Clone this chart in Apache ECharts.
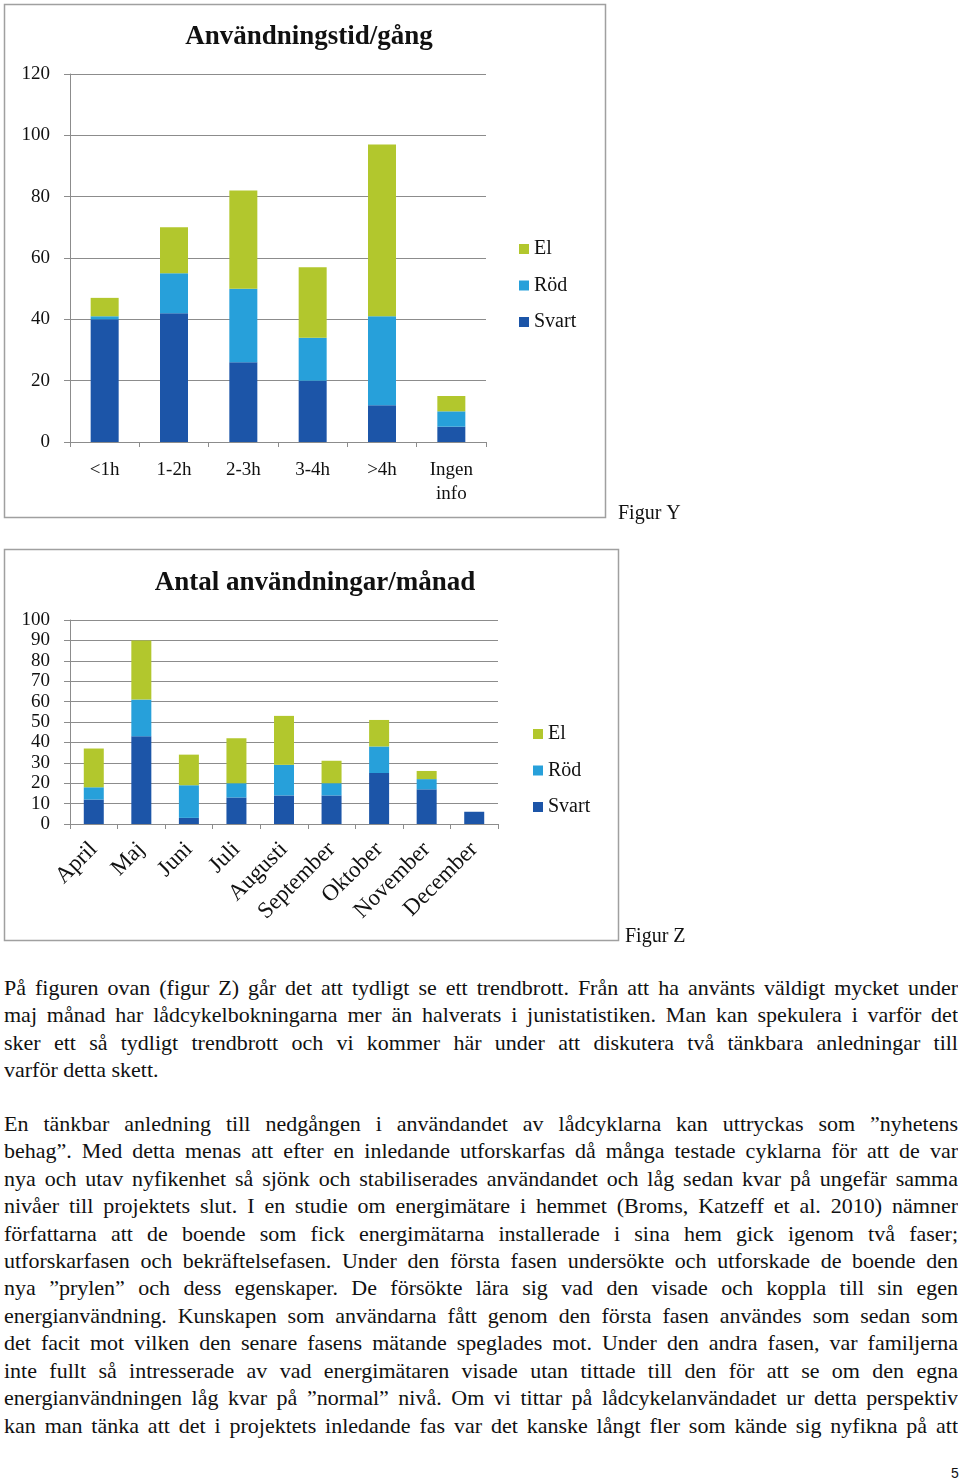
<!DOCTYPE html>
<html>
<head>
<meta charset="utf-8">
<script src="https://cdn.jsdelivr.net/npm/echarts@6/dist/echarts.min.js"></script>
<style>
  html, body { margin: 0; padding: 0; background: #fff; }
  body { width: 960px; height: 1483px; position: relative; overflow: hidden; }
  #chart { position: absolute; left: 0; top: 0; width: 960px; height: 955px; }
  #text { position: absolute; left: 4px; top: 974px; width: 954px;
          font-family: "Liberation Serif", "Times New Roman", serif; font-size: 22px; color: #111; }
  .ln { height: 27.45px; line-height: 27.45px; overflow: hidden; text-align: justify; text-align-last: justify; white-space: nowrap; }
  .ln.last { text-align: left; text-align-last: left; }
  .p2 { margin-top: 26px; }
  #pg { position: absolute; left: 951px; top: 1465px; font-family: "Liberation Sans", Arial, sans-serif; font-size: 14px; color: #111; }
</style>
</head>
<body>
<div id="chart"></div>
<div id="text">
  <div class="ln">På figuren ovan (figur Z) går det att tydligt se ett trendbrott. Från att ha använts väldigt mycket under</div>
  <div class="ln">maj månad har lådcykelbokningarna mer än halverats i junistatistiken. Man kan spekulera i varför det</div>
  <div class="ln">sker ett så tydligt trendbrott och vi kommer här under att diskutera två tänkbara anledningar till</div>
  <div class="ln last">varför detta skett.</div>
  <div class="p2">
  <div class="ln">En tänkbar anledning till nedgången i användandet av lådcyklarna kan uttryckas som ”nyhetens</div>
  <div class="ln">behag”. Med detta menas att efter en inledande utforskarfas då många testade cyklarna för att de var</div>
  <div class="ln">nya och utav nyfikenhet så sjönk och stabiliserades användandet och låg sedan kvar på ungefär samma</div>
  <div class="ln">nivåer till projektets slut. I en studie om energimätare i hemmet (Broms, Katzeff et al. 2010) nämner</div>
  <div class="ln">författarna att de boende som fick energimätarna installerade i sina hem gick igenom två faser;</div>
  <div class="ln">utforskarfasen och bekräftelsefasen. Under den första fasen undersökte och utforskade de boende den</div>
  <div class="ln">nya ”prylen” och dess egenskaper. De försökte lära sig vad den visade och koppla till sin egen</div>
  <div class="ln">energianvändning. Kunskapen som användarna fått genom den första fasen användes som sedan som</div>
  <div class="ln">det facit mot vilken den senare fasens mätande speglades mot. Under den andra fasen, var familjerna</div>
  <div class="ln">inte fullt så intresserade av vad energimätaren visade utan tittade till den för att se om den egna</div>
  <div class="ln">energianvändningen låg kvar på ”normal” nivå. Om vi tittar på lådcykelanvändadet ur detta perspektiv</div>
  <div class="ln">kan man tänka att det i projektets inledande fas var det kanske långt fler som kände sig nyfikna på att</div>
  </div>
</div>
<div id="pg">5</div>
<script>
// ---- Data ----
const cats1 = ['<1h', '1-2h', '2-3h', '3-4h', '>4h', 'Ingen info'];
const svart1 = [40, 42, 26, 20, 12, 5];
const rod1 = [1, 13, 24, 14, 29, 5];
const el1 = [6, 15, 32, 23, 56, 5];

const cats2 = ['April', 'Maj', 'Juni', 'Juli', 'Augusti', 'September', 'Oktober', 'November', 'December'];
const svart2 = [12, 43, 3, 13, 14, 14, 25, 17, 6];
const rod2 = [6, 18, 16, 7, 15, 6, 13, 5, 0];
const el2 = [19, 29, 15, 22, 24, 11, 13, 4, 0];

const legendNames = ['El', 'Röd', 'Svart'];
const title1 = 'Användningstid/gång';
const title2 = 'Antal användningar/månad';
const figY = 'Figur Y';
const figZ = 'Figur Z';

// ---- Styles ----
const SERIF = '"Liberation Serif", "Times New Roman", serif';
const C_SVART = '#1c55a8', C_ROD = '#27a0da', C_EL = '#b2c72d';
const GRAY = '#8c8c8c';

function xAxisCfg(gi, data, rotate) {
  return {
    type: 'category', gridIndex: gi, data: data,
    axisLine: { lineStyle: { color: GRAY, width: 1 } },
    axisTick: { show: true, length: 5, lineStyle: { color: GRAY } },
    axisLabel: rotate ? { rotate: 45, margin: 22, color: '#111', fontFamily: SERIF, fontSize: 23, interval: 0 }
                      : { margin: 16, color: '#111', fontFamily: SERIF, fontSize: 19, lineHeight: 24, interval: 0,
                          formatter: v => v.replace(' ', '\n') }
  };
}
function yAxisCfg(gi, max, interval, fs) {
  return {
    type: 'value', gridIndex: gi, min: 0, max: max, interval: interval,
    axisLine: { show: true, lineStyle: { color: GRAY, width: 1 } },
    axisTick: { show: true, length: 6, lineStyle: { color: GRAY } },
    splitLine: { show: true, lineStyle: { color: GRAY, width: 1.2 } },
    axisLabel: { margin: 20, color: '#111', fontFamily: SERIF, fontSize: fs }
  };
}
function bar(name, data, color, gi, bw) {
  return { name: name, type: 'bar', stack: 's' + gi, xAxisIndex: gi, yAxisIndex: gi, data: data,
           barWidth: bw, itemStyle: { color: color }, emphasis: { disabled: true } };
}
function legendCfg(left, top) {
  return {
    orient: 'vertical', left: left, top: top, data: legendNames,
    icon: 'rect', itemWidth: 10, itemHeight: 10, itemGap: 16.5,
    textStyle: { fontFamily: SERIF, fontSize: 20, color: '#111', lineHeight: 20 },
    selectedMode: false
  };
}

const chart = echarts.init(document.getElementById('chart'), null, { renderer: 'canvas' });
chart.setOption({
  animation: false,
  backgroundColor: '#fff',
  title: [
    { text: title1, left: 304, top: 19, textAlign: 'center',
      textStyle: { fontFamily: SERIF, fontWeight: 'bold', fontSize: 27, color: '#111' } },
    { text: title2, left: 310, top: 565, textAlign: 'center',
      textStyle: { fontFamily: SERIF, fontWeight: 'bold', fontSize: 27, color: '#111' } }
  ],
  legend: [legendCfg(514, 234), legendCfg(528, 719)],
  grid: [
    { left: 70, top: 74, width: 416, height: 368 },
    { left: 70, top: 620, width: 428, height: 204 }
  ],
  xAxis: [xAxisCfg(0, cats1, false), xAxisCfg(1, cats2, true)],
  yAxis: [yAxisCfg(0, 120, 20, 19), yAxisCfg(1, 100, 10, 19)],
  series: [
    bar('Svart', svart1, C_SVART, 0, 28),
    bar('Röd', rod1, C_ROD, 0, 28),
    bar('El', el1, C_EL, 0, 28),
    bar('Svart', svart2, C_SVART, 1, 20),
    bar('Röd', rod2, C_ROD, 1, 20),
    bar('El', el2, C_EL, 1, 20)
  ],
  graphic: [
    { type: 'rect', shape: { x: 4.5, y: 4.5, width: 601, height: 513 }, style: { fill: null, stroke: '#a0a0a0', lineWidth: 1.5 }, silent: true, z: -1 },
    { type: 'rect', shape: { x: 4.5, y: 549.5, width: 614, height: 391 }, style: { fill: null, stroke: '#a0a0a0', lineWidth: 1.5 }, silent: true, z: -1 },
    { type: 'text', left: 618, top: 504, style: { text: figY, font: '20px ' + SERIF, fill: '#111' } },
    { type: 'text', left: 625, top: 927, style: { text: figZ, font: '20px ' + SERIF, fill: '#111' } }
  ]
});
</script>
</body>
</html>
